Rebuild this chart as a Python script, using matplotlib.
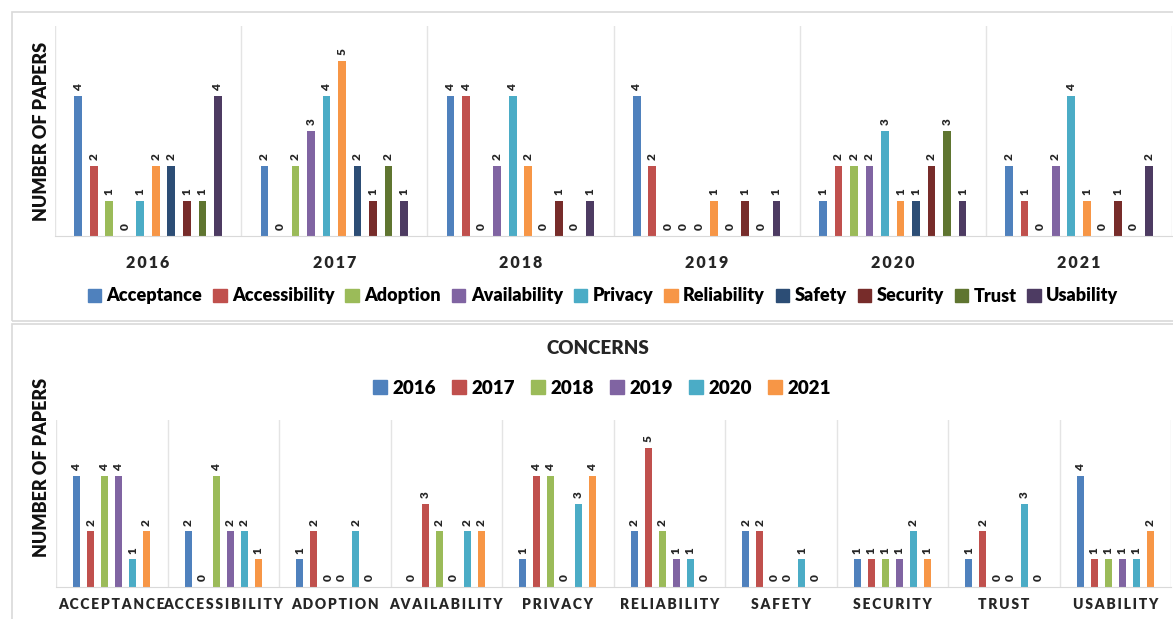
import matplotlib
matplotlib.use("Agg")
import matplotlib.pyplot as plt
from matplotlib.patches import Rectangle, Patch
import numpy as np

plt.rcParams["font.family"] = ["Lato", "DejaVu Sans"]

years = ["2016", "2017", "2018", "2019", "2020", "2021"]
concerns = ["Acceptance", "Accessibility", "Adoption", "Availability", "Privacy",
            "Reliability", "Safety", "Security", "Trust", "Usability"]

# top chart: counts per year, one value per concern
top_2016 = [4, 2, 1, 0, 1, 2, 2, 1, 1, 4]
top_2017 = [2, 0, 2, 3, 4, 5, 2, 1, 2, 1]
top_2018 = [4, 4, 0, 2, 4, 2, 0, 1, 0, 1]
top_2019 = [4, 2, 0, 0, 0, 1, 0, 1, 0, 1]
top_2020 = [1, 2, 2, 2, 3, 1, 1, 2, 3, 1]
top_2021 = [2, 1, 0, 2, 4, 1, 0, 1, 0, 2]

# bottom chart: counts per concern, one value per year
bot_acceptance = [4, 2, 4, 4, 1, 2]
bot_accessibility = [2, 0, 4, 2, 2, 1]
bot_adoption = [1, 2, 0, 0, 2, 0]
bot_availability = [0, 3, 2, 0, 2, 2]
bot_privacy = [1, 4, 4, 0, 3, 4]
bot_reliability = [2, 5, 2, 1, 1, 0]
bot_safety = [2, 2, 0, 0, 1, 0]
bot_security = [1, 1, 1, 1, 2, 1]
bot_trust = [1, 2, 0, 0, 3, 0]
bot_usability = [4, 1, 1, 1, 1, 2]

concern_colors = ["#4F81BD", "#C0504D", "#9BBB59", "#8064A2", "#4BACC6",
                  "#F79646", "#2C4D75", "#772C2A", "#5F7530", "#4D3B62"]
year_colors = concern_colors[:6]

W, H = 1173, 619
fig = plt.figure(figsize=(W / 100, H / 100), dpi=100)
fig.patch.set_facecolor("white")

# panel frames
frame_col = "#D9D9D9"
fig.add_artist(Rectangle((12 / W, 1 - 321 / H), 1.2, 309 / H, transform=fig.transFigure,
                         fill=False, edgecolor=frame_col, lw=1.2))
fig.add_artist(Rectangle((12 / W, -0.05), 1.2, 1 - 324 / H + 0.05, transform=fig.transFigure,
                         fill=False, edgecolor=frame_col, lw=1.2))


def px_axes(left, right, top, bottom):
    return fig.add_axes([left / W, 1 - bottom / H, (right - left) / W, (bottom - top) / H])


def style_axes(ax, ngroups):
    for s in ["top", "right", "left"]:
        ax.spines[s].set_visible(False)
    ax.spines["bottom"].set_color(frame_col)
    ax.set_yticks([])
    ax.set_ylim(0, 6)
    ax.set_xlim(-0.5, ngroups - 0.5)
    for b in np.arange(ngroups + 1) - 0.5:
        ax.axvline(b, color="#E4E4E4", lw=1, zorder=0)
    ax.tick_params(axis="x", length=0)


def spaced(s):
    return "\u2009".join(s)


# ---------- top chart ----------
ax1 = px_axes(55, 1172, 26, 236)
top_data = np.array([top_2016, top_2017, top_2018, top_2019, top_2020, top_2021])
slot = 1 / 12
x = np.arange(len(years))
for j, name in enumerate(concerns):
    xs = x + (j - 4.5) * slot
    vals = top_data[:, j]
    ax1.bar(xs, vals, width=0.5 * slot, color=concern_colors[j], label=name, zorder=2)
    for xi, v in zip(xs, vals):
        ax1.annotate(str(v), (xi, v), xytext=(0, 4), textcoords="offset points",
                     rotation=90, ha="center", va="bottom", fontsize=8.5,
                     fontweight="heavy", color="#262626")
style_axes(ax1, len(years))
ax1.set_xticks(x)
ax1.set_xticklabels([spaced(y) for y in years], fontsize=11.5, fontweight="heavy", color="#262626")
ax1.tick_params(axis="x", pad=14)

fig.text(42 / W, 1 - 131 / H, "NUMBER OF PAPERS", rotation=90, ha="center", va="center",
         fontsize=13, fontweight="heavy", color="#111111")

handles = [Patch(color=c, label=n) for c, n in zip(concern_colors, concerns)]
fig.legend(handles=handles, loc="center", bbox_to_anchor=(603 / W, 1 - 296 / H), ncol=10,
           frameon=False, prop={"size": 13, "weight": "heavy"}, handlelength=0.75,
           handleheight=0.75, handletextpad=0.3, columnspacing=0.6)

# ---------- bottom chart ----------
ax2 = px_axes(56, 1171, 420, 587)
bot_data = np.array([bot_acceptance, bot_accessibility, bot_adoption, bot_availability,
                     bot_privacy, bot_reliability, bot_safety, bot_security, bot_trust,
                     bot_usability])
slot2 = 1 / 8
x2 = np.arange(len(concerns))
for j, yr in enumerate(years):
    xs = x2 + (j - 2.5) * slot2
    vals = bot_data[:, j]
    ax2.bar(xs, vals, width=0.5 * slot2, color=year_colors[j], label=yr, zorder=2)
    for xi, v in zip(xs, vals):
        ax2.annotate(str(v), (xi, v), xytext=(0, 4), textcoords="offset points",
                     rotation=90, ha="center", va="bottom", fontsize=8.5,
                     fontweight="heavy", color="#262626")
style_axes(ax2, len(concerns))
ax2.set_xticks(x2)
ax2.set_xticklabels([spaced(c.upper()) for c in concerns], fontsize=10, fontweight="heavy",
                    color="#262626")
ax2.tick_params(axis="x", pad=8)

fig.text(42 / W, 1 - 467 / H, "NUMBER OF PAPERS", rotation=90, ha="center", va="center",
         fontsize=13, fontweight="heavy", color="#111111")
fig.text(598 / W, 1 - 349 / H, "CONCERNS", ha="center", va="center", fontsize=13.5,
         fontweight="heavy", color="#262626")

handles2 = [Patch(color=c, label=y) for c, y in zip(year_colors, years)]
fig.legend(handles=handles2, loc="center", bbox_to_anchor=(602 / W, 1 - 388 / H), ncol=6,
           frameon=False, prop={"size": 13.5, "weight": "heavy"}, handlelength=0.75,
           handleheight=0.75, handletextpad=0.3, columnspacing=0.85)

fig.savefig("out.png", dpi=100)
